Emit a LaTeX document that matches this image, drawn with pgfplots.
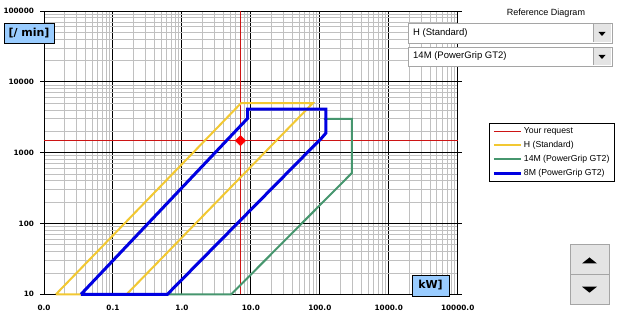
\documentclass[border=0pt]{standalone}
\usepackage{fontspec}
\setmainfont{Liberation Sans}
\newfontfamily\dvs{DejaVu Sans}
\usepackage{pgfplots}
\pgfplotsset{compat=1.18}
\definecolor{hyellow}{RGB}{242,200,50}
\definecolor{gblue}{RGB}{0,0,225}
\definecolor{ggreen}{RGB}{70,150,110}
\definecolor{reqred}{RGB}{205,20,20}
\definecolor{gridgray}{RGB}{192,192,192}
\definecolor{lblue}{RGB}{153,204,255}
\definecolor{btngray}{RGB}{228,228,228}
\definecolor{bordergray}{RGB}{165,165,165}
\begin{document}
\begin{tikzpicture}
\path[fill=white, use as bounding box] (0,0) rectangle (622pt,320pt);
\begin{axis}[
  at={(44pt,25.7pt)}, anchor=south west,
  scale only axis, width=413.7pt, height=283.3pt,
  xmode=log, ymode=log,
  xmin=0.01, xmax=10000, ymin=10, ymax=100000,
  xtick={0.01,0.1,1,10,100,1000,10000},
  xticklabels={0.0,0.1,1.0,10.0,100.0,1000.0,10000.0},
  ytick={10,100,1000,10000,100000},
  yticklabels={10,100,1000,10000,100000},
  minor xtick={0.02,0.03,0.04,0.05,0.06,0.07,0.08,0.09,0.2,0.3,0.4,0.5,0.6,0.7,0.8,0.9,2,3,4,5,6,7,8,9,20,30,40,50,60,70,80,90,200,300,400,500,600,700,800,900,2000,3000,4000,5000,6000,7000,8000,9000},
  minor ytick={20,30,40,50,60,70,80,90,200,300,400,500,600,700,800,900,2000,3000,4000,5000,6000,7000,8000,9000,20000,30000,40000,50000,60000,70000,80000,90000},
  grid=both,
  major grid style={black, line width=0.9pt},
  minor grid style={gridgray, line width=0.9pt},
  axis line style={black, line width=0.9pt},
  tick align=outside,
  major tick length=4pt, minor tick length=0pt,
  xtick style={draw=none},
  ytick style={black, line width=0.9pt},
  ticklabel style={font=\dvs\bfseries\fontsize{7.3}{8}\selectfont},
  xticklabel style={yshift=-3pt},
  yticklabel style={xshift=-2.5pt},
  /pgf/number format/assume math mode=true,
  clip=false,
  legend style={at={(1.0757,0.6047)}, anchor=north west, draw=black, line width=0.8pt,
    font=\fontsize{8.7}{10}\selectfont, inner xsep=3pt, inner ysep=2pt, row sep=2pt,
    nodes={inner sep=1.5pt, text height=7pt, text depth=2pt}},
  legend cell align=left,
  legend image code/.code={\draw[#1] (0pt,0pt) -- (27pt,0pt);},
]
\addplot[color=reqred, line width=1pt] coordinates {(7.08,10) (7.08,100000)};
\addlegendentry{Your request}
\addplot[color=reqred, line width=1pt, forget plot] coordinates {(0.01,1480) (10000,1480)};
\addplot[hyellow, line width=2pt] coordinates {(0.0149,10) (7.2,4990) (79,4990) (0.158,10) (0.0149,10)};
\addlegendentry{H (Standard)}
\addplot[ggreen, line width=2pt] coordinates {(0.5,10) (5.2,10) (292,516) (292,2990) (115,2990)};
\addlegendentry{14M (PowerGrip GT2)}
\addplot[gblue, line width=3pt] coordinates {(0.0344,10) (9.0,3060) (9.0,4100) (122,4100) (122,1880) (107,1620) (0.616,10) (0.0344,10)};
\addlegendentry{8M (PowerGrip GT2)}
\addplot[only marks, mark=square*, mark size=3.7pt, mark options={rotate=45}, color=red, forget plot] coordinates {(7.08,1480)};
\end{axis}
\begin{scope}[x=1pt,y=-1pt,yshift=320pt]
  \node[draw=black, line width=0.8pt, fill=lblue, font=\dvs\bfseries\fontsize{11}{12}\selectfont, inner sep=0pt, minimum width=50pt, minimum height=20pt] at (29,33) {[/ min]};
  \node[draw=black, line width=0.8pt, fill=lblue, font=\dvs\bfseries\fontsize{11}{12}\selectfont, inner sep=0pt, minimum width=37pt, minimum height=21pt] at (430.5,285.5) {kW]};
  \node[font=\fontsize{9}{10}\selectfont] at (546,13) {Reference Diagram};
  % combo 1
  \draw[bordergray, fill=white, line width=0.8pt] (408,23) rectangle (612,43);
  \fill[btngray] (593,24) rectangle (611,42);
  \draw[bordergray, line width=0.6pt] (593,24) -- (593,42);
  \fill[black] (598.5,32) -- (605.5,32) -- (602,36) -- cycle;
  \node[anchor=west, font=\fontsize{9.5}{11}\selectfont, inner sep=0pt] at (413,33) {H (Standard)};
  % combo 2
  \draw[bordergray, fill=white, line width=0.8pt] (408,47) rectangle (612,66);
  \fill[btngray] (593,48) rectangle (611,65);
  \draw[bordergray, line width=0.6pt] (593,48) -- (593,65);
  \fill[black] (598.5,55) -- (605.5,55) -- (602,59) -- cycle;
  \node[anchor=west, font=\fontsize{9.5}{11}\selectfont, inner sep=0pt] at (413,56.5) {14M (PowerGrip GT2)};
  % up/down buttons
  \draw[bordergray, fill=btngray, line width=0.8pt] (570,244) rectangle (609,274);
  \draw[bordergray, fill=btngray, line width=0.8pt] (570,274) rectangle (609,304);
  \fill[black] (582,263.5) -- (597,263.5) -- (589.5,257.5) -- cycle;
  \fill[black] (582,286.7) -- (597,286.7) -- (589.5,292.7) -- cycle;
\end{scope}
\end{tikzpicture}
\end{document}
